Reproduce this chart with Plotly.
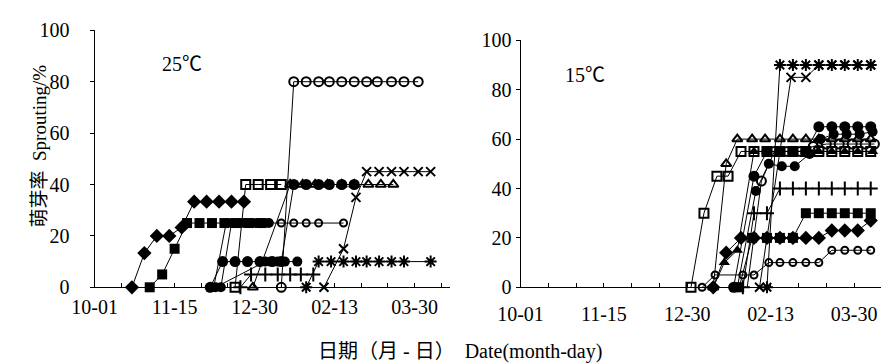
import plotly.graph_objects as go

# ---------------- axis ticks ----------------
TICK_DAYS = [0, 45, 90, 135, 180]          # days after 10-01
TICK_LABELS = ["10-01", "11-15", "12-30", "02-13", "03-30"]
Y_TICKS = [0, 20, 40, 60, 80, 100]

# ---------------- 25 ℃ panel (x: days after 10-01, y: sprouting %) ----------------
p25_diamond_x = [21, 28, 35, 42, 49, 56, 63, 70, 77, 84]
p25_diamond_y = [0, 13.3, 20, 20, 23.3, 33.3, 33.3, 33.3, 33.3, 33.3]

p25_square_x = [31, 38, 45, 52, 59, 66, 73, 80, 87, 94]
p25_square_y = [0, 5, 15, 25, 25, 25, 25, 25, 25, 25]

p25_circB_x = [71, 77, 84, 91, 98]
p25_circB_y = [0, 25, 25, 25, 25]

p25_dot_x = [67, 74, 81, 88, 95, 105, 112, 119, 126, 140]
p25_dot_y = [0, 25, 25, 25, 25, 25, 25, 25, 25, 25]

p25_opensq_x = [79, 85, 92, 99, 105]
p25_opensq_y = [0, 40, 40, 40, 40]

p25_tri_x = [89, 110, 117, 124, 131, 139, 146, 154, 161, 168]
p25_tri_y = [0, 40, 40, 40, 40, 40, 40, 40, 40, 40]

p25_plus_x = [82, 88, 96, 103, 110, 116, 123]
p25_plus_y = [0, 5, 5, 5, 5, 5, 5]

p25_circC_x = [68, 96, 99, 103, 107, 114]
p25_circC_y = [0, 10, 10, 10, 10, 10]

p25_circA_x = [65, 72, 79, 86, 93, 100, 105, 112, 119, 126, 132, 139, 146]
p25_circA_y = [0, 10, 10, 10, 10, 10, 10, 40, 40, 40, 40, 40, 40]

p25_opencirc_x = [105, 112, 119, 126, 132, 139, 146, 153, 159, 167, 174, 182]
p25_opencirc_y = [0, 80, 80, 80, 80, 80, 80, 80, 80, 80, 80, 80]

p25_star_x = [119, 126, 133, 140, 147, 153, 160, 167, 174, 189]
p25_star_y = [0, 10, 10, 10, 10, 10, 10, 10, 10, 10]

p25_x_x = [129, 140, 147, 153, 160, 167, 174, 182, 189]
p25_x_y = [0, 15, 35, 45, 45, 45, 45, 45, 45]

# ---------------- 15 ℃ panel ----------------
p15_opensq_x = [92, 99, 106, 112, 119, 126, 133, 140, 147, 154, 161, 168, 175, 182, 189]
p15_opensq_y = [0, 30, 45, 45, 55, 55, 55, 55, 55, 55, 55, 55, 55, 55, 55]

p15_tri_x = [104, 111, 117, 125, 132, 140, 147, 154, 161, 168, 175, 182, 189]
p15_tri_y = [0, 50, 60, 60, 60, 60, 60, 60, 60, 60, 60, 60, 60]

p15_dot_x = [98, 105, 120, 126, 134, 140, 147, 154, 161, 168, 175, 182, 189]
p15_dot_y = [0, 5, 5, 5, 10, 10, 10, 10, 10, 15, 15, 15, 15]

p15_diamond_x = [104, 111, 119, 126, 133, 140, 147, 154, 161, 168, 175, 182, 189]
p15_diamond_y = [0, 14, 20, 20, 20, 20, 20, 20, 20, 23, 23, 23, 27]

p15_square_x = [118, 125, 133, 140, 147, 154, 161, 168, 175, 182, 189]
p15_square_y = [0, 20, 20, 20, 20, 30, 30, 30, 30, 30, 30]

p15_plus_x = [120, 126, 133, 140, 147, 154, 161, 168, 175, 182, 189]
p15_plus_y = [0, 30, 30, 40, 40, 40, 40, 40, 40, 40, 40]

p15_opencirc_x = [122, 130, 137, 144, 151, 158, 165, 172, 179, 186, 191]
p15_opencirc_y = [-2, 43, 55, 55, 55, 57, 58, 58, 58, 58, 58]

p15_filltri_x = [104, 110, 117, 126, 133, 140, 147, 154, 161, 168, 175, 182, 190]
p15_filltri_y = [0, 10, 15, 55, 55, 55, 55, 55, 55, 55, 55, 55, 55]

p15_circB_x = [117, 127, 134, 141, 148, 156, 162, 169, 176, 183, 190]
p15_circB_y = [0, 39, 50, 49, 49, 54, 60, 62, 62, 62, 63]

p15_circA_x = [115, 126, 133, 140, 147, 154, 161, 168, 175, 182, 189]
p15_circA_y = [0, 45, 55, 55, 55, 55, 65, 65, 65, 65, 65]

p15_x_x = [129, 146, 154, 161, 168, 175, 182, 189]
p15_x_y = [0, 85, 85, 90, 90, 90, 90, 90]

p15_star_x = [133, 140, 147, 154, 161, 168, 175, 182, 189]
p15_star_y = [0, 90, 90, 90, 90, 90, 90, 90, 90]

# ---------------- styles ----------------
STYLE = {
    "diamond": dict(symbol="diamond", size=11),
    "square": dict(symbol="square", size=10),
    "circle": dict(symbol="circle", size=11),
    "circle_s": dict(symbol="circle", size=10),
    "dot": dict(symbol="circle-open", size=7),
    "opensq": dict(symbol="square-open", size=9),
    "tri": dict(symbol="triangle-up-open", size=9),
    "filltri": dict(symbol="triangle-up", size=10),
    "plus": dict(symbol="cross-thin", size=10),
    "opencirc": dict(symbol="circle-open", size=9),
    "star": dict(symbol="asterisk", size=10),
    "x": dict(symbol="x-thin", size=9),
}

panel25 = [
    (p25_diamond_x, p25_diamond_y, "diamond"),
    (p25_square_x, p25_square_y, "square"),
    (p25_opensq_x, p25_opensq_y, "opensq"),
    (p25_tri_x, p25_tri_y, "tri"),
    (p25_circB_x, p25_circB_y, "circle_s"),
    (p25_dot_x, p25_dot_y, "dot"),
    (p25_plus_x, p25_plus_y, "plus"),
    (p25_circC_x, p25_circC_y, "circle_s"),
    (p25_circA_x, p25_circA_y, "circle"),
    (p25_opencirc_x, p25_opencirc_y, "opencirc"),
    (p25_star_x, p25_star_y, "star"),
    (p25_x_x, p25_x_y, "x"),
]

panel15 = [
    (p15_opensq_x, p15_opensq_y, "opensq"),
    (p15_tri_x, p15_tri_y, "tri"),
    (p15_dot_x, p15_dot_y, "dot"),
    (p15_diamond_x, p15_diamond_y, "diamond"),
    (p15_square_x, p15_square_y, "square"),
    (p15_plus_x, p15_plus_y, "plus"),
    (p15_opencirc_x, p15_opencirc_y, "opencirc"),
    (p15_filltri_x, p15_filltri_y, "filltri"),
    (p15_circB_x, p15_circB_y, "circle_s"),
    (p15_circA_x, p15_circA_y, "circle"),
    (p15_x_x, p15_x_y, "x"),
    (p15_star_x, p15_star_y, "star"),
]

fig = go.Figure()


def add_panel(series, xa, ya):
    for xs, ys, key in series:
        st = STYLE[key]
        is_open = st["symbol"].endswith("open") or st["symbol"] in ("cross-thin", "x-thin", "asterisk")
        fig.add_trace(go.Scatter(
            x=xs, y=ys, xaxis=xa, yaxis=ya, mode="lines+markers",
            line=dict(color="black", width=1),
            marker=dict(symbol=st["symbol"], size=st["size"], color="black",
                        line=dict(color="black", width=2 if is_open else 0)),
            cliponaxis=False, showlegend=False, hoverinfo="skip",
        ))


add_panel(panel25, "x", "y")
add_panel(panel15, "x2", "y2")

W, H = 889, 364
FONT = "Liberation Serif, 'Noto Sans CJK SC', serif"

xcommon = dict(
    tickmode="array", tickvals=TICK_DAYS, ticktext=TICK_LABELS,
    ticks="inside", ticklen=4, tickcolor="black", tickwidth=1,
    minor=dict(tickmode="linear", tick0=0, dtick=15, ticks="inside", ticklen=4,
               tickcolor="black", tickwidth=1, showgrid=False),
    showline=True, linecolor="black", linewidth=1, showgrid=False, zeroline=False,
    tickfont=dict(family=FONT, size=20, color="black"), automargin=False,
)
ycommon = dict(
    range=[0, 100], tickmode="array", tickvals=Y_TICKS,
    ticks="outside", ticklen=4, tickcolor="black", tickwidth=1,
    showline=True, linecolor="black", linewidth=1, showgrid=False, zeroline=False,
    tickfont=dict(family=FONT, size=20, color="black"), automargin=False,
)

fig.update_layout(
    width=W, height=H,
    margin=dict(l=0, r=0, t=0, b=0),
    paper_bgcolor="white", plot_bgcolor="white",
    xaxis=dict(domain=[86.6 / W, 442.2 / W], range=[0, 200], anchor="y",
               ticklabelstandoff=2, **xcommon),
    yaxis=dict(domain=[1 - 279.3 / H, 1 - 22.3 / H], anchor="x",
               ticklabelstandoff=16, **ycommon),
    xaxis2=dict(domain=[512.5 / W, 875.7 / W], range=[0, 196], anchor="y2",
                ticklabelstandoff=9, **xcommon),
    yaxis2=dict(domain=[1 - 279.3 / H, 1 - 32.3 / H], anchor="x2",
                ticklabelstandoff=0, **ycommon),
    annotations=[
        dict(text="25℃", x=152 / W, y=1 - 43 / H, xref="paper", yref="paper",
             showarrow=False, font=dict(family=FONT, size=20, color="black")),
        dict(text="15℃", x=577 / W, y=1 - 54 / H, xref="paper", yref="paper",
             showarrow=False, font=dict(family=FONT, size=20, color="black")),
        dict(text="萌芽率  Sprouting/%", x=18 / W, y=1 - 138 / H, xref="paper", yref="paper",
             textangle=-90, showarrow=False, font=dict(family=FONT, size=19, color="black")),
        dict(text="日期（月 - 日）  Date(month-day)", x=452 / W, y=1 - 343 / H,
             xref="paper", yref="paper", yanchor="middle", showarrow=False,
             font=dict(family=FONT, size=20, color="black")),
    ],
)

fig.write_html("out.html")
